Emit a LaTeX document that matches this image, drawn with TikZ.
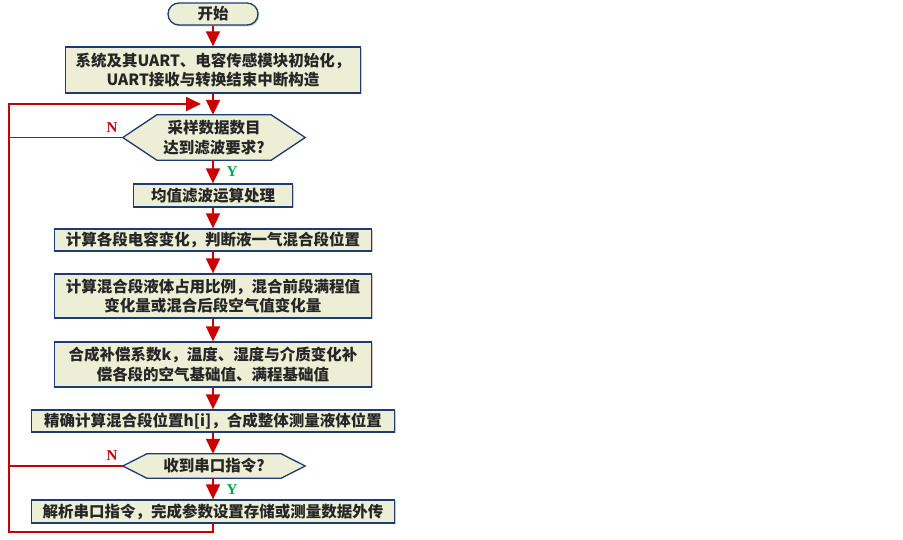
\documentclass[tikz,border=0pt]{standalone}
\usepackage{fontspec}
\newfontfamily\cjk{Noto Sans CJK SC}
\newfontfamily\labfont{Liberation Serif}
\usetikzlibrary{arrows.meta,shadows}
\definecolor{boxfill}{HTML}{ECEFD6}
\definecolor{boxdraw}{HTML}{1F3B73}
\definecolor{flowred}{HTML}{CC0000}
\definecolor{ygreen}{HTML}{00A651}
\definecolor{txt}{HTML}{262626}
\tikzset{
  procbox/.style={draw=boxdraw,line width=1.3pt,fill=boxfill,inner sep=0pt,align=center,
    text=txt,font=\cjk\bfseries\fontsize{15.5}{19.5}\selectfont,
    drop shadow={shadow xshift=1.3pt,shadow yshift=-1.3pt,fill=black!35,opacity=0.6}},
  hexnode/.style={inner sep=0pt,align=center,text=txt,font=\cjk\bfseries\fontsize{15.5}{19.5}\selectfont},
  hexline/.style={draw=boxdraw,line width=1.3pt,fill=boxfill},
  flow/.style={draw=flowred,line width=1.8pt,-{Triangle[width=14pt,length=15pt]}},
  flowline/.style={draw=flowred,line width=1.8pt},
  nlab/.style={text=flowred,font=\labfont\bfseries\fontsize{15}{15}\selectfont},
  ylab/.style={text=ygreen,font=\labfont\bfseries\fontsize{15}{15}\selectfont},
}
\begin{document}
\begin{tikzpicture}[x=1pt,y=-1pt]
\useasboundingbox (0,0) rectangle (903,539);
% start
\node[procbox,rounded corners=11pt,minimum width=90pt,minimum height=22pt] (start) at (213,14) {开始};
\node[procbox,minimum width=295pt,minimum height=46pt] (init) at (213,70) {系统及其UART、电容传感模块初始化，\\UART接收与转换结束中断构造};
% decision 1
\node[hexnode,minimum width=182pt,minimum height=45pt] (dec1) at (214,137.5) {};
\path[hexline] (dec1.west) -- ([xshift=34pt]dec1.north west) -- ([xshift=-34pt]dec1.north east) -- (dec1.east) -- ([xshift=-34pt]dec1.south east) -- ([xshift=34pt]dec1.south west) -- cycle;
\node[hexnode] (dec1t) at (dec1.center) {采样数据数目\\达到滤波要求?};
\node[procbox,minimum width=159pt,minimum height=23pt] (b1) at (213,195.5) {均值滤波运算处理};
\node[procbox,minimum width=317pt,minimum height=22pt] (b2) at (213,240) {计算各段电容变化，判断液一气混合段位置};
\node[procbox,minimum width=317pt,minimum height=44pt] (b3) at (213,296) {计算混合段液体占用比例，混合前段满程值\\变化量或混合后段空气值变化量};
\node[procbox,minimum width=317pt,minimum height=45pt] (b4) at (213,364.5) {合成补偿系数k，温度、湿度与介质变化补\\偿各段的空气基础值、满程基础值};
\node[procbox,minimum width=363pt,minimum height=22pt] (b5) at (213,421) {精确计算混合段位置h[i]，合成整体测量液体位置};
% decision 2
\node[hexnode,minimum width=182pt,minimum height=24pt] (dec2) at (214,466) {};
\path[hexline] (dec2.west) -- ([xshift=24pt]dec2.north west) -- ([xshift=-24pt]dec2.north east) -- (dec2.east) -- ([xshift=-24pt]dec2.south east) -- ([xshift=24pt]dec2.south west) -- cycle;
\node[hexnode] (dec2t) at (dec2.center) {收到串口指令?};
\node[procbox,minimum width=363pt,minimum height=23pt] (b6) at (213,511.5) {解析串口指令，完成参数设置存储或测量数据外传};
% coordinates
\coordinate (loopin) at (201,104);
\coordinate (bl) at (9,532);
\coordinate (br) at (213,532);
\coordinate (tl) at (9,104);
\coordinate (n1) at (9,137.5);
\coordinate (n2) at (9,466);
% connectors
\draw[flow] (start) -- (init);
\draw[flow] (init.south) -- (init.south |- dec1.north);
\draw[flow] (dec1.south -| b1.north) -- (b1.north);
\draw[flow] (b1) -- (b2);
\draw[flow] (b2) -- (b3);
\draw[flow] (b3) -- (b4);
\draw[flow] (b4) -- (b5);
\draw[flow] (b5.south) -- (b5.south |- dec2.north);
\draw[flow] (dec2.south -| b6.north) -- (b6.north);
\draw[flowline,line join=miter] (b6.south) -- (br) -- (bl) -- (tl) -- ++(20,0);
\draw[flow] (tl) -- (loopin);
\draw[flowline] (dec1.west) -- (n1);
\draw[flowline] (dec2.west) -- (n2);
% labels
\node[nlab] (ln1) at (112,128) {N};
\node[ylab] (ly1) at (232,172) {Y};
\node[nlab] (ln2) at (112,456) {N};
\node[ylab] (ly2) at (232,490) {Y};
\end{tikzpicture}
\end{document}
